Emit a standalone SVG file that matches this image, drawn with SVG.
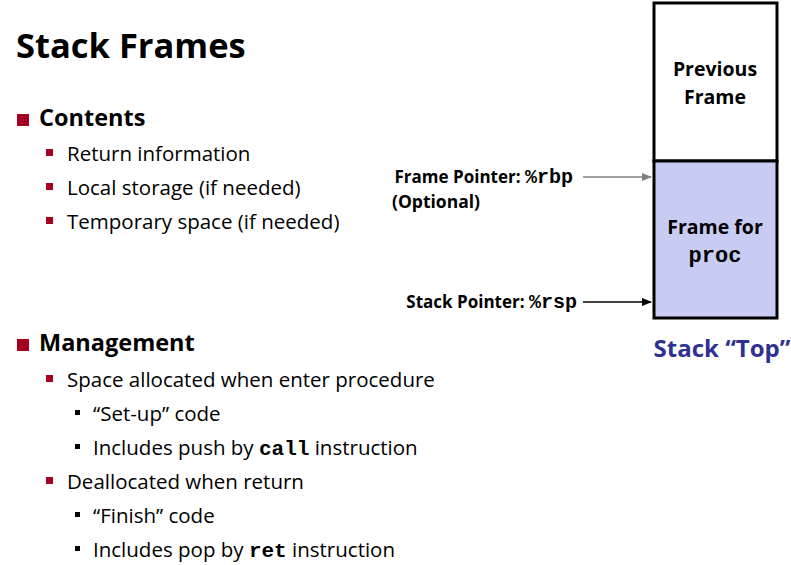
<svg xmlns="http://www.w3.org/2000/svg" width="791" height="565" viewBox="0 0 791 565">
<style>
text{font-family:"Open Sans",Lato,sans-serif;fill:#000}
.b{font-weight:bold}
.m{font-family:"Liberation Mono",monospace;font-weight:bold}
.l2{font-size:20.5px}
.l3{font-size:20.5px}
.r{fill:#a50021}
</style>
<defs>
<marker id="ag" markerWidth="10" markerHeight="8" refX="9" refY="4" orient="auto" markerUnits="userSpaceOnUse"><path d="M0,0L10,4L0,8z" fill="#808080"/></marker>
<marker id="ab" markerWidth="10" markerHeight="8" refX="9" refY="4" orient="auto" markerUnits="userSpaceOnUse"><path d="M0,0L10,4L0,8z" fill="#000"/></marker>
</defs>
<rect width="791" height="565" fill="#fff"/>
<text x="16" y="58" font-size="34.5" class="b">Stack Frames</text>
<rect class="r" x="17" y="114" width="12" height="12"/>
<text x="39" y="126" font-size="23.5" class="b">Contents</text>
<rect class="r" x="46" y="149" width="7" height="7"/><text x="67" y="161" class="l2">Return information</text>
<rect class="r" x="46" y="183" width="7" height="7"/><text x="67" y="195" class="l2">Local storage (if needed)</text>
<rect class="r" x="46" y="217" width="7" height="7"/><text x="67" y="229" class="l2">Temporary space (if needed)</text>
<rect class="r" x="17" y="339" width="12" height="12"/>
<text x="39" y="351" font-size="23.5" class="b">Management</text>
<rect class="r" x="46" y="375" width="7" height="7"/><text x="67" y="387" class="l2">Space allocated when enter procedure</text>
<rect x="75" y="410" width="5" height="5"/><text x="93" y="421" class="l3">“Set-up” code</text>
<rect x="75" y="444" width="5" height="5"/><text x="93" y="455" class="l3">Includes push by <tspan class="m" font-size="21">call</tspan> instruction</text>
<rect class="r" x="46" y="477" width="7" height="7"/><text x="67" y="489" class="l2">Deallocated when return</text>
<rect x="75" y="512" width="5" height="5"/><text x="93" y="523" class="l3">“Finish” code</text>
<rect x="75" y="546" width="5" height="5"/><text x="93" y="557" class="l3">Includes pop by <tspan class="m" font-size="21">ret</tspan> instruction</text>
<g id="prev"><rect x="654" y="3" width="123" height="158" fill="#fff" stroke="#000" stroke-width="3"/>
<text x="715" y="76" font-size="19.5" class="b" text-anchor="middle">Previous</text>
<text x="715" y="104" font-size="19.5" class="b" text-anchor="middle">Frame</text></g>
<g id="proc"><rect x="654" y="161" width="123" height="157" fill="#c9ccf2" stroke="#000" stroke-width="3"/>
<text x="715" y="234" font-size="19.5" class="b" text-anchor="middle">Frame for</text>
<text x="715" y="262" font-size="22" class="m" text-anchor="middle">proc</text></g>
<text x="722" y="357" font-size="24" class="b" text-anchor="middle" style="fill:#2e3192">Stack “Top”</text>
<g id="labels">
<text x="573" y="183" font-size="17" class="b" text-anchor="end">Frame Pointer: <tspan class="m" font-size="20">%rbp</tspan></text>
<text x="392" y="208" font-size="17.5" class="b">(Optional)</text>
<text x="577" y="308" font-size="17" class="b" text-anchor="end">Stack Pointer: <tspan class="m" font-size="20">%rsp</tspan></text>
</g>
<g id="connectors">
<line x1="583" y1="177" x2="651" y2="177" stroke="#808080" stroke-width="1.5" marker-end="url(#ag)"/>
<line x1="583" y1="302" x2="651" y2="302" stroke="#000" stroke-width="1.5" marker-end="url(#ab)"/>
</g>
</svg>
